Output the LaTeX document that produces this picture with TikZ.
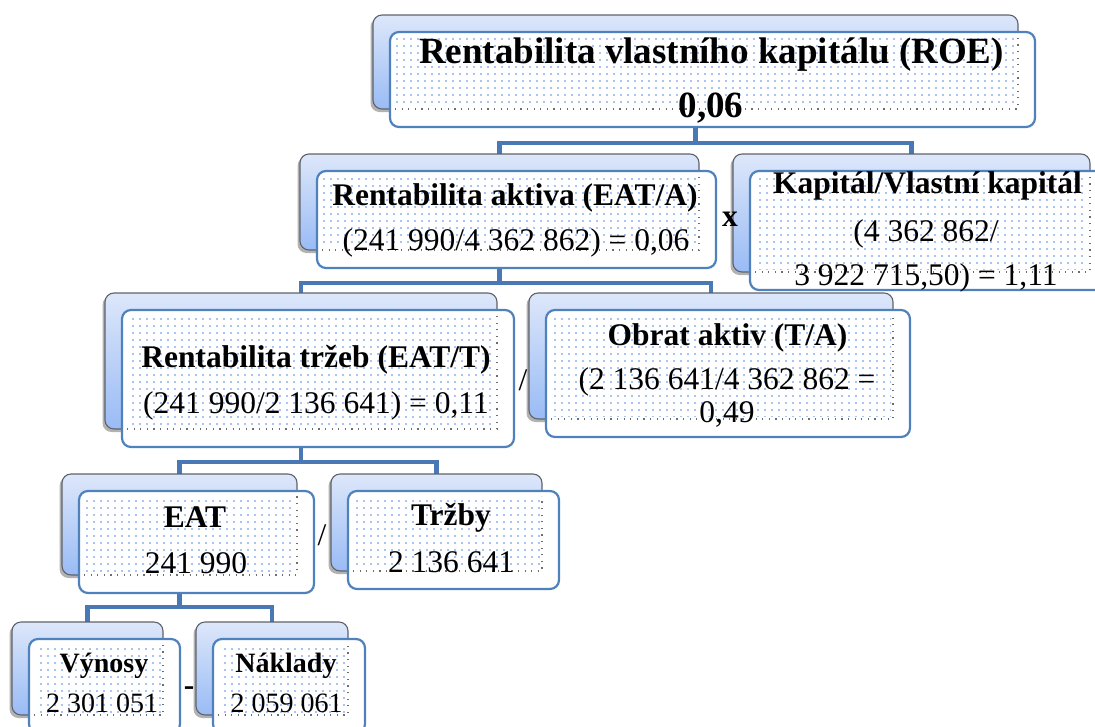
\documentclass[tikz,border=0pt]{standalone}
\usepackage{fontspec}
\setmainfont{Liberation Serif}
\usetikzlibrary{shadows,patterns.meta,calc}
\pgfdeclarelayer{background}
\pgfsetlayers{background,main}
\definecolor{conncol}{HTML}{4A78B4}
\definecolor{frontedge}{HTML}{4F81BD}
\definecolor{backedge}{HTML}{5E636B}
\definecolor{backtop}{HTML}{DDE7FA}
\definecolor{backbot}{HTML}{99BBF5}
\definecolor{dotcol}{HTML}{A8C4F2}
\definecolor{dotline}{HTML}{6E6E6E}
\tikzdeclarepattern{
  name=bdots,
  type=uncolored,
  bounding box={(0pt,0pt) and (6.6pt,7pt)},
  tile size={(6.6pt,7pt)},
  code={\pgfpathrectangle{\pgfpointorigin}{\pgfpoint{2pt}{2pt}}\pgfusepath{fill}}
}
\tikzset{
  backbox/.style={rectangle, rounded corners=9pt, draw=backedge, line width=1.1pt,
    top color=backtop, bottom color=backbot, inner sep=0pt,
    drop shadow={shadow xshift=-2.5pt, shadow yshift=-3pt, opacity=0.3, fill=black}},
  frontbox/.style={rectangle, rounded corners=9pt, draw=frontedge, line width=2.2pt,
    fill=white, inner sep=0pt},
  conn/.style={draw=conncol, line width=4.5pt},
  dotted line/.style={draw=dotline, line width=1.2pt, dash pattern=on 1.2pt off 5.4pt},
  big/.style={font=\fontsize{37}{42}\selectfont\bfseries, anchor=base, inner sep=0pt},
  ttl/.style={font=\fontsize{31.5}{36}\selectfont\bfseries, anchor=base, inner sep=0pt},
  val/.style={font=\fontsize{31.5}{36}\selectfont, anchor=base, inner sep=0pt},
  sttl/.style={font=\fontsize{28}{32}\selectfont\bfseries, anchor=base, inner sep=0pt},
  sval/.style={font=\fontsize{28}{32}\selectfont, anchor=base, inner sep=0pt},
}
% #1 name, #2 x1, #3 y1, #4 x2, #5 y2 of the back box
\newcommand{\tierbox}[5]{%
  \node[backbox, minimum width={#4-#2}, minimum height={#5-#3}] (#1B) at ({(#2+#4)/2},{(#3+#5)/2}) {};
  \node[frontbox, minimum width={#4-#2}, minimum height={#5-#3+1}] (#1F) at ({(#2+#4)/2+17},{(#3+#5)/2+17.5}) {};
  \fill[pattern=bdots, pattern color=dotcol] ({#2+23},{#3+23}) rectangle ({#4-2},{#5-3});
  \draw[dotted line] ({#2+22},{#5}) -- ({#4},{#5}) -- ({#4},{#3+22});
}
\begin{document}
\begin{tikzpicture}[x=1pt,y=-1pt]
\useasboundingbox (0,0) rectangle (1095,726);
\clip (0,0) rectangle (1095,726);

\tierbox{roe}{373}{15}{1018}{109}
\tierbox{ra}{300}{154}{699}{250}
\tierbox{kv}{733}{154}{1090}{272}
\tierbox{rt}{105}{293}{497}{429}
\tierbox{oa}{529}{293}{893}{419}
\tierbox{eat}{62}{474}{297}{575}
\tierbox{trz}{331}{474}{542}{571}
\tierbox{vyn}{12}{622}{163}{715}
\tierbox{nak}{196}{622}{348}{715}

\begin{pgfonlayer}{background}
\coordinate (bus1) at (0,143);
\coordinate (bus2) at (0,283);
\coordinate (bus3) at (0,462);
\coordinate (bus4) at (0,607);
\draw[conn] (roeB.center) -- (roeB.center |- bus1) -| (raB.center);
\draw[conn] (roeB.center |- bus1) -| (kvB.center);
\draw[conn] (raB.center) -- (raB.center |- bus2) -| (rtB.center);
\draw[conn] (raB.center |- bus2) -| (oaB.center);
\draw[conn] (rtB.center) -- (rtB.center |- bus3) -| (eatB.center);
\draw[conn] (rtB.center |- bus3) -| (trzB.center);
\draw[conn] (eatB.center) -- (eatB.center |- bus4) -| (vynB.center);
\draw[conn] (eatB.center |- bus4) -| (nakB.center);
\end{pgfonlayer}

\node[big] (roeT1) at (711.5,63) {Rentabilita vlastního kapitálu (ROE)};
\node[big] (roeT2) at (711,117) {0,06};

\node[ttl] (raT1) at (515,205) {Rentabilita aktiva (EAT/A)};
\node[val] (raT2) at (516,250) {(241 990/4 362 862) = 0,06};

\node[ttl] (kvT1) at (927.5,193) {Kapitál/Vlastní kapitál};
\node[val] (kvT2) at (926,241) {(4 362 862/};
\node[val] (kvT3) at (926,285) {3 922 715,50) = 1,11};

\node[ttl] (rtT1) at (316,367) {Rentabilita tržeb (EAT/T)};
\node[val] (rtT2) at (316,413) {(241 990/2 136 641) = 0,11};

\node[ttl] (oaT1) at (727.5,345) {Obrat aktiv (T/A)};
\node[val] (oaT2) at (727,389) {(2 136 641/4 362 862 =};
\node[val] (oaT3) at (727,422) {0,49};

\node[ttl] (eatT1) at (195,527) {EAT};
\node[val] (eatT2) at (196,573) {241 990};
\node[ttl] (trzT1) at (451,525) {Tržby};
\node[val] (trzT2) at (451,572) {2 136 641};

\node[sttl] (vynT1) at (104,672) {Výnosy};
\node[sval] (vynT2) at (102,712) {2 301 051};
\node[sttl] (nakT1) at (286,672) {Náklady};
\node[sval] (nakT2) at (286.5,712) {2 059 061};

\node[ttl] (opX) at (730,226) {x};
\node[val] (opS1) at (523,390) {/};
\node[val] (opS2) at (322,545) {/};
\node[ttl] (opM) at (189,695) {-};
\end{tikzpicture}
\end{document}
